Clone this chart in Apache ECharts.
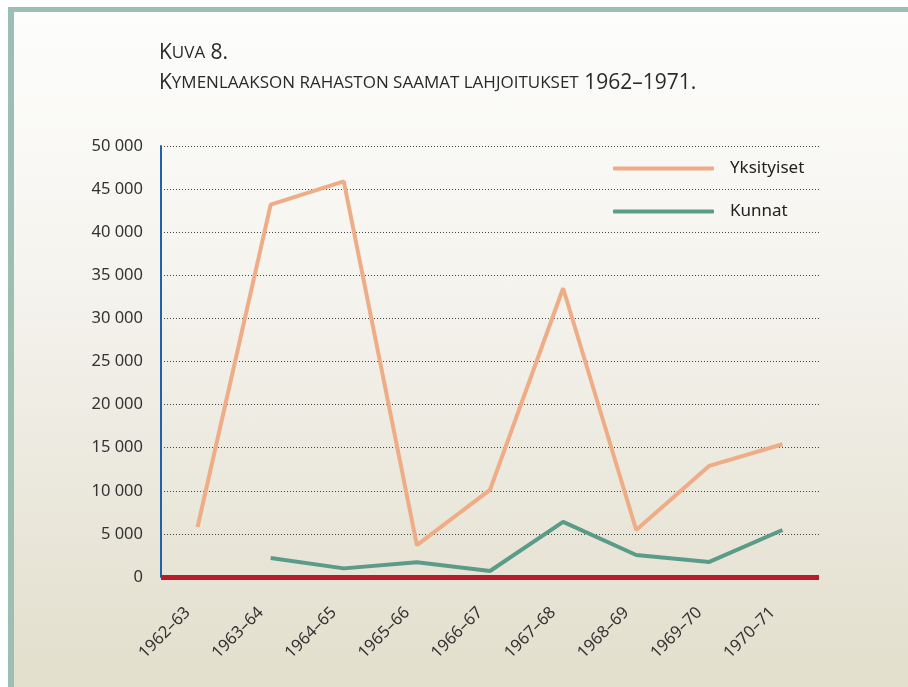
<!DOCTYPE html>
<html lang="fi">
<head>
    <meta charset="UTF-8">
    <title>Kuva 8</title>
    <script type="text/javascript" src="https://cdn.jsdelivr.net/npm/echarts@6/dist/echarts.min.js"></script>
    <style>
        html, body {
            margin: 0;
            padding: 0;
            background: #ffffff;
        }
        /* kehys ja taustan liukuväri */
        #frame {
            position: absolute;
            left: 8px;
            top: 7px;
            width: 900px;
            height: 680px;
            box-sizing: border-box;
            border-top: 5px solid #9bbfb2;
            border-left: 6px solid #9bbfb2;
            background: linear-gradient(to bottom, #fdfdfc 0%, #f6f5f0 35%, #ebe8dd 70%, #e2dfcd 100%);
        }
        #main {
            position: absolute;
            left: 0;
            top: 0;
            width: 908px;
            height: 687px;
        }
    </style>
</head>
<body>
<div id="frame"></div>
<div id="main"></div>
<script>
    var categories = ['1962–63', '1963–64', '1964–65', '1965–66', '1966–67', '1967–68', '1968–69', '1969–70', '1970–71'];
    var yksityiset = [5800, 43200, 45900, 3700, 10100, 33500, 5450, 12900, 15400];
    var kunnat = [null, 2200, 1000, 1700, 700, 6400, 2550, 1750, 5450];

    var chartDom = document.getElementById('main');
    var myChart = echarts.init(chartDom);

    var titleFont = '"Open Sans", "Noto Sans", sans-serif';
    var capStyle = {fontSize: 21, fontFamily: titleFont, fill: '#2a2a2a'};
    var smallStyle = {fontSize: 17, fontFamily: titleFont, fill: '#2a2a2a'};

    var option = {
        animation: false,
        graphic: [
            {
                type: 'text',
                left: 159,
                top: 38,
                style: {
                    text: '{c|K}{s|UVA}{c| 8.}\n{c|K}{s|YMENLAAKSON RAHASTON SAAMAT LAHJOITUKSET}{c| 1962–1971.}',
                    lineHeight: 30,
                    rich: {c: capStyle, s: smallStyle}
                }
            }
        ],
        legend: {
            orient: 'vertical',
            left: 608,
            top: 155,
            itemWidth: 101,
            itemHeight: 4,
            itemGap: 26,
            icon: 'roundRect',
            textStyle: {
                fontSize: 17,
                fontFamily: '"Noto Sans", sans-serif',
                color: '#222',
                padding: [0, 0, 0, 11]
            },
            data: ['Yksityiset', 'Kunnat']
        },
        grid: {
            left: 161,
            right: 89,
            top: 146,
            bottom: 110
        },
        xAxis: {
            type: 'category',
            data: categories,
            boundaryGap: true,
            axisLine: {lineStyle: {color: '#b71c2c', width: 5, cap: 'butt'}},
            axisTick: {show: false},
            axisLabel: {
                rotate: 45,
                margin: 23,
                padding: [0, 14, 0, 0],
                fontSize: 16.5,
                fontFamily: '"Noto Sans", sans-serif',
                color: '#333'
            }
        },
        yAxis: {
            type: 'value',
            min: 0,
            max: 50000,
            interval: 5000,
            axisLine: {show: true, lineStyle: {color: '#1e62ad', width: 2}},
            axisTick: {show: false},
            axisLabel: {
                margin: 18,
                fontSize: 16.5,
                fontFamily: '"Noto Sans", sans-serif',
                color: '#333',
                formatter: function (v) {
                    return String(v).replace(/\B(?=(\d{3})+(?!\d))/g, ' ');
                }
            },
            splitLine: {lineStyle: {color: '#444', width: 1, type: [1, 2]}}
        },
        series: [
            {
                name: 'Yksityiset',
                type: 'line',
                data: yksityiset,
                showSymbol: false,
                color: '#eead86',
                lineStyle: {width: 4}
            },
            {
                name: 'Kunnat',
                type: 'line',
                data: kunnat,
                showSymbol: false,
                color: '#5b9b89',
                lineStyle: {width: 4}
            }
        ]
    };
    myChart.setOption(option);
</script>
</body>
</html>
